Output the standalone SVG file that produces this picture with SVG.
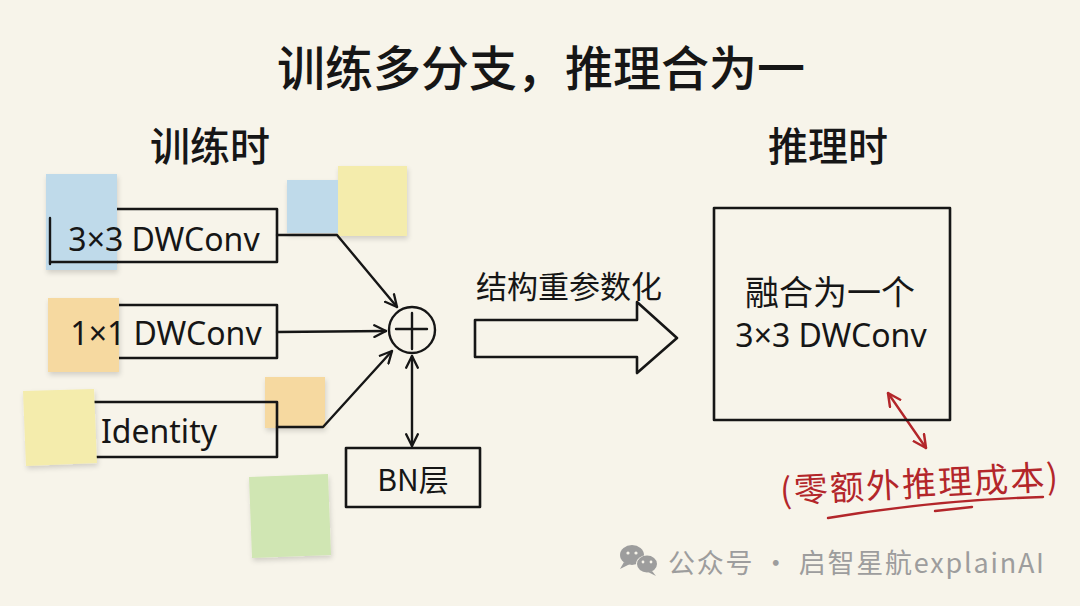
<svg xmlns="http://www.w3.org/2000/svg" width="1080" height="606" viewBox="0 0 1080 606">
<defs>
<style>
.cjk{font-family:"Noto Sans CJK SC","Noto Sans",sans-serif;}
.lat{font-family:"Noto Sans","Noto Sans CJK SC",sans-serif;}
.ink{fill:#161616;}
.box{fill:none;stroke:#161616;stroke-width:2.6;stroke-linejoin:round;}
.line{fill:none;stroke:#161616;stroke-width:2.4;stroke-linecap:round;stroke-linejoin:round;}
.red{fill:none;stroke:#b3262a;stroke-width:2.4;stroke-linecap:round;}
.blue{fill:#bfdaea;}
.yellow{fill:#f4ecac;}
.orange{fill:#f6d9a0;}
.green{fill:#d0e6b3;}
</style>
<marker id="ah" viewBox="0 0 12 12" refX="11" refY="6" markerWidth="14" markerHeight="14" markerUnits="userSpaceOnUse" orient="auto-start-reverse">
<path d="M1,1 L11,6 L1,11" fill="none" stroke="#161616" stroke-width="2" stroke-linecap="round" stroke-linejoin="round"/>
</marker>
<marker id="ahr" viewBox="0 0 12 12" refX="11" refY="6" markerWidth="15" markerHeight="15" markerUnits="userSpaceOnUse" orient="auto-start-reverse">
<path d="M1,1 L11,6 L1,11" fill="none" stroke="#b3262a" stroke-width="2" stroke-linecap="round" stroke-linejoin="round"/>
</marker>
<filter id="sh" x="-20%" y="-20%" width="140%" height="140%">
<feDropShadow dx="1" dy="3" stdDeviation="2.5" flood-color="#000" flood-opacity="0.15"/>
</filter>
</defs>
<rect x="0" y="0" width="1080" height="606" fill="#f7f4ea"/>

<g id="title">
<text class="cjk ink" x="541" y="86" font-size="48" font-weight="500" text-anchor="middle">训练多分支，推理合为一</text>
</g>
<g id="label-train">
<text class="cjk ink" x="210" y="161" font-size="40" font-weight="500" text-anchor="middle">训练时</text>
</g>
<g id="label-infer">
<text class="cjk ink" x="828" y="161" font-size="40" font-weight="500" text-anchor="middle">推理时</text>
</g>

<g id="sticky-notes" filter="url(#sh)">
<rect class="blue" x="287" y="180" width="52" height="53"/>
<rect class="yellow" x="338" y="166" width="69" height="70"/>
<rect class="orange" x="265" y="377" width="60" height="51"/>
<polygon class="green" points="249,477 328,474 331,555 252,558"/>
</g>

<g id="node-3x3">
<rect class="box" x="50" y="209" width="227" height="53"/>
<rect class="blue" x="46" y="174" width="71" height="96" filter="url(#sh)"/>
<line class="line" x1="50" y1="218" x2="50" y2="264"/>
<line class="line" x1="50" y1="262" x2="117" y2="262"/>
<text class="lat ink" x="164" y="251" font-size="32" text-anchor="middle">3×3 DWConv</text>
</g>
<g id="node-1x1">
<rect class="box" x="50" y="305" width="227" height="53"/>
<rect class="orange" x="48" y="298" width="71" height="74" filter="url(#sh)"/>
<text class="lat ink" x="166" y="345" font-size="32" text-anchor="middle">1×1 DWConv</text>
</g>
<g id="node-identity">
<rect class="box" x="50" y="402" width="227" height="55"/>
<polygon class="yellow" points="23,391 94,389 97,463 26,466" filter="url(#sh)"/>
<text class="lat ink" x="159" y="443" font-size="32" text-anchor="middle">Identity</text>
</g>

<g id="node-add">
<circle class="line" cx="412" cy="330" r="23"/>
<line class="line" x1="396" y1="329" x2="427" y2="329"/>
<line class="line" x1="412" y1="313" x2="412" y2="349"/>
</g>

<g id="node-bn">
<rect class="box" x="346" y="448" width="134" height="59"/>
<text class="cjk ink" x="413" y="491" font-size="30" text-anchor="middle">BN层</text>
</g>

<g id="connectors">
<polyline class="line" points="277,235 337,235 397,307" marker-end="url(#ah)"/>
<line class="line" x1="277" y1="332" x2="386" y2="331" marker-end="url(#ah)"/>
<polyline class="line" points="277,427 323,427 392,351" marker-end="url(#ah)"/>
<line class="line" x1="412" y1="356" x2="412" y2="446" marker-start="url(#ah)" marker-end="url(#ah)"/>
<polygon class="box" points="475,320 637,320 637,302 677,338 637,373 637,357 475,357"/>
<line class="red" x1="888" y1="393" x2="926" y2="448" marker-start="url(#ahr)" marker-end="url(#ahr)"/>
</g>
<g id="label-reparam">
<text class="cjk ink" x="569" y="298" font-size="31" text-anchor="middle">结构重参数化</text>
</g>

<g id="node-fused">
<rect class="box" x="714" y="208" width="236" height="212"/>
<text class="cjk ink" x="830" y="305" font-size="34" text-anchor="middle">融合为一个</text>
<text class="lat ink" x="831" y="347" font-size="32" text-anchor="middle">3×3 DWConv</text>
</g>

<g id="note-cost">
<text class="cjk" fill="#b3262a" x="780" y="496" font-size="34" textLength="278" lengthAdjust="spacing" transform="rotate(-3 920 484)">(零额外推理成本)</text>
<path class="red" d="M828,518 Q935,500 1043,497"/>
<path class="red" d="M935,511 L972,507" stroke-width="1.6"/>
</g>

<g id="watermark">
<ellipse cx="632" cy="555" rx="12" ry="10" fill="#9d9d9d"/>
<path d="M624,562 L620,569 L630,564 Z" fill="#9d9d9d"/>
<circle cx="628" cy="553" r="1.6" fill="#f7f4ea"/>
<circle cx="636" cy="553" r="1.6" fill="#f7f4ea"/>
<ellipse cx="647" cy="564" rx="11" ry="9" fill="#f7f4ea"/>
<ellipse cx="647" cy="564" rx="10" ry="8.5" fill="#9d9d9d"/>
<path d="M652,571 L656,576 L648,572 Z" fill="#9d9d9d"/>
<circle cx="643" cy="562" r="1.4" fill="#f7f4ea"/>
<circle cx="651" cy="562" r="1.4" fill="#f7f4ea"/>
<text class="cjk" fill="#9d9d9d" x="668" y="573" font-size="27" textLength="376">公众号 · 启智星航explainAI</text>
</g>
</svg>
